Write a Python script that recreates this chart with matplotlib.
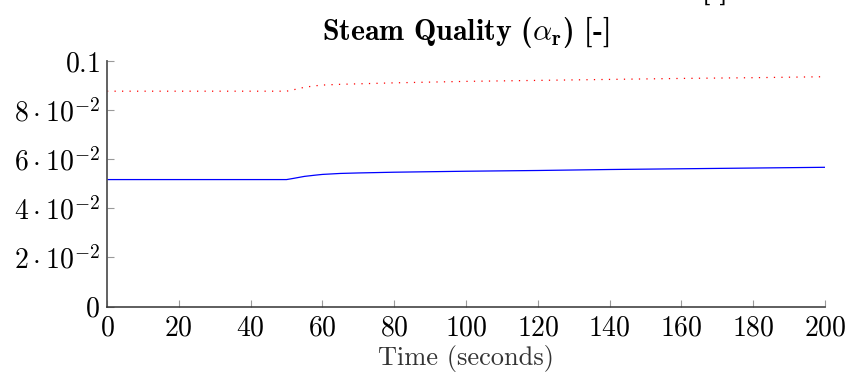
import matplotlib
matplotlib.use("Agg")
import matplotlib.pyplot as plt
from matplotlib.ticker import FixedLocator, FixedFormatter

# Simulation output: steam quality over time
time_s = [0, 10, 20, 30, 40, 50, 52, 55, 58, 60, 65, 70, 80, 90, 100, 120, 140, 160, 180, 200]
quality_a = [0.0517, 0.0517, 0.0517, 0.0517, 0.0517, 0.0517, 0.0522, 0.0530, 0.0535, 0.0538,
             0.0542, 0.0544, 0.0547, 0.0549, 0.0551, 0.0554, 0.0558, 0.0561, 0.0564, 0.0567]
quality_b = [0.0877, 0.0877, 0.0877, 0.0877, 0.0877, 0.0877, 0.0883, 0.0893, 0.0899, 0.0902,
             0.0905, 0.0907, 0.0911, 0.0914, 0.0917, 0.0921, 0.0925, 0.0929, 0.0932, 0.0936]

x_ticks = [0, 20, 40, 60, 80, 100, 120, 140, 160, 180, 200]
y_ticks = [0, 0.02, 0.04, 0.06, 0.08, 0.1]
y_tick_labels = ["$0$", r"$2\cdot10^{-2}$", r"$4\cdot10^{-2}$", r"$6\cdot10^{-2}$",
                 r"$8\cdot10^{-2}$", "$0.1$"]

plt.rcParams["font.family"] = "serif"
plt.rcParams["font.serif"] = ["cmr10"]
plt.rcParams["mathtext.fontset"] = "cm"
plt.rcParams["axes.unicode_minus"] = False

fig = plt.figure(figsize=(8.49, 3.79), dpi=100)
ax = fig.add_axes([107 / 849, 1 - 306.5 / 379, (825 - 107) / 849, (306.5 - 61) / 379])

ax.plot(time_s, quality_a, color="blue", linewidth=0.9, solid_joinstyle="round")
ax.plot(time_s, quality_b, color="red", linewidth=0.9, linestyle=(0, (1, 5)))

ax.set_xlim(0, 200)
ax.set_ylim(0, 0.1)
ax.xaxis.set_major_locator(FixedLocator(x_ticks))
ax.xaxis.set_major_formatter(FixedFormatter([f"${v}$" for v in x_ticks]))
ax.yaxis.set_major_locator(FixedLocator(y_ticks))
ax.yaxis.set_major_formatter(FixedFormatter(y_tick_labels))

for side in ("top", "right"):
    ax.spines[side].set_visible(False)
ax.spines["left"].set_color("#555555")
ax.spines["bottom"].set_color("#333333")
ax.spines["left"].set_linewidth(1.3)
ax.spines["bottom"].set_linewidth(1.1)
ax.tick_params(direction="in", length=5, width=0.8, color="#9a9a9a",
               labelsize=20, pad=5)
ax.tick_params(axis="x", pad=6)

ax.set_xlabel("Time (seconds)", fontsize=19, color="#333333", labelpad=3)
ax.set_title(r"Steam Quality ($\alpha_{\mathbf{r}}$) [-]", fontsize=21.5,
             fontfamily="cmb10", pad=15)

# Bottom edge of the heading of the panel above
fig.text(715 / 849, 1 + 2 / 379, "[-]", fontsize=21.5, fontfamily="cmb10",
         ha="center", va="baseline")

fig.savefig("out.png", dpi=100)
